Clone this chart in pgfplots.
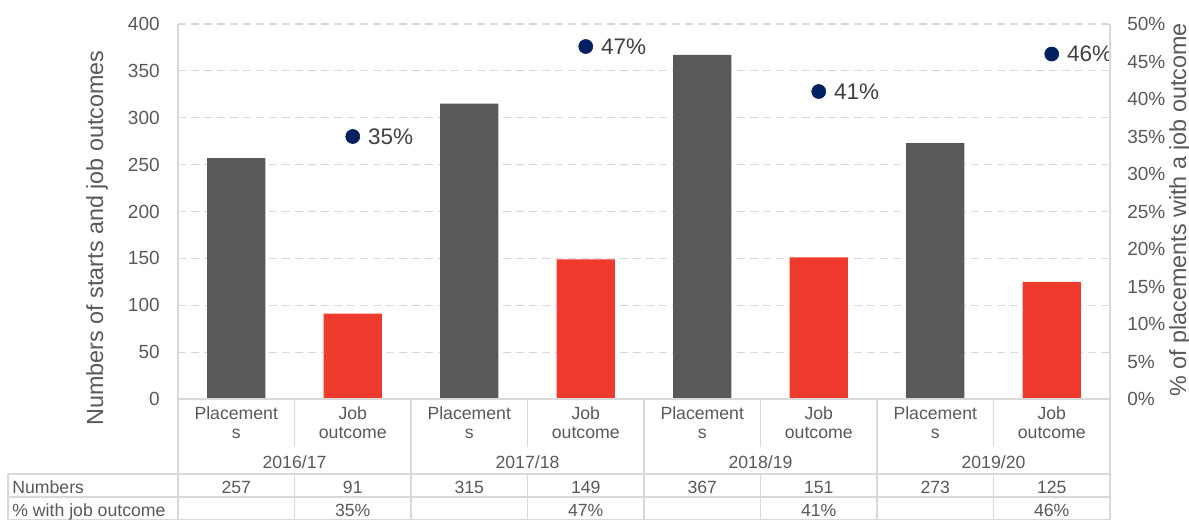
\documentclass[border=0pt]{standalone}
\usepackage{pgfplots}
\pgfplotsset{compat=1.18}
\usepackage{fontspec}
\setmainfont{Liberation Sans}
\definecolor{txt}{HTML}{595959}
\definecolor{txtd}{HTML}{404040}
\definecolor{bargray}{HTML}{595959}
\definecolor{barred}{HTML}{EE3B2D}
\definecolor{navy}{HTML}{002060}
\definecolor{gridc}{HTML}{D9D9D9}
\newcommand\tickfont{\fontsize{11.4}{13}\selectfont}
\newcommand\tabfont{\fontsize{10.6}{11.4}\selectfont}
\newcommand\labfont{\fontsize{13.5}{15}\selectfont}
\newcommand\titfont{\fontsize{14}{16}\selectfont}
\begin{document}
\begin{tikzpicture}[x=0.6pt,y=-0.6pt]
\path[use as bounding box] (0,0) rectangle (1189,520);
\begin{axis}[
  at={(106.8pt,-239.4pt)}, anchor=south west, scale only axis,
  width=559.2pt, height=225pt,
  xmin=-0.5, xmax=7.5, ymin=0, ymax=400,
  ytick={0,50,...,400}, xtick=\empty,
  /pgf/number format/assume math mode=true,
  ymajorgrids, grid style={gridc, dash pattern=on 4.8pt off 3pt, line width=0.7pt},
  axis line style={draw=none},
  major tick length=0pt,
  yticklabel style={font=\tickfont, color=txt, anchor=east, inner sep=0pt, xshift=-10.8pt},
  ybar, bar width=0.5,
  clip=false,
]
\addplot[ybar, bar shift=0pt, fill=bargray, draw=none] coordinates {(0,257) (2,315) (4,367) (6,273)};
\addplot[ybar, bar shift=0pt, fill=barred, draw=none] coordinates {(1,91) (3,149) (5,151) (7,125)};
\end{axis}
\begin{axis}[
  at={(106.8pt,-239.4pt)}, anchor=south west, scale only axis,
  width=559.2pt, height=225pt,
  xmin=-0.5, xmax=7.5, ymin=0, ymax=0.5,
  ytick={0,0.05,...,0.51}, xtick=\empty,
  yticklabels={0\%,5\%,10\%,15\%,20\%,25\%,30\%,35\%,40\%,45\%,50\%},
  yticklabel pos=right,
  axis line style={draw=none},
  major tick length=0pt,
  yticklabel style={font=\tickfont, color=txt, anchor=west, inner sep=0pt, xshift=10.2pt},
  clip=false,
]
\addplot[only marks, mark=*, mark size=4.2pt, color=navy,
  nodes near coords, point meta=explicit symbolic,
  nodes near coords style={anchor=west, inner sep=0pt, xshift=9pt, font=\labfont, color=txtd}]
  coordinates {(1,0.35)[35\%] (3,0.47)[47\%] (5,0.41)[41\%] (7,0.46)[46\%]};
\end{axis}
% axis frame lines
\draw[gridc, line width=0.9pt] (178,24) -- (178,399) -- (1110,399) -- (1110,24);
% table lines
\begin{scope}[gridc, line width=0.9pt]
\foreach \x in {178,411,644,877,1110} \draw (\x,399) -- (\x,520);
\foreach \x in {294.5,527.5,760.5,993.5} {\draw (\x,399) -- (\x,447); \draw (\x,474) -- (\x,520);}
\draw (8,474) -- (8,520);
\draw (8,474) -- (1110,474);
\draw (8,497) -- (1110,497);
\draw (8,519.3) -- (1110,519.3);
\end{scope}
% category labels
\begin{scope}[font=\tabfont, text=txt]
\foreach \x in {236.25,469.25,702.25,935.25} {
  \node[anchor=base] at (\x,419) {Placement};
  \node[anchor=base] at (\x,438.5) {s};
}
\foreach \x in {352.75,585.75,818.75,1051.75} {
  \node[anchor=base] at (\x,419) {Job};
  \node[anchor=base] at (\x,438.5) {outcome};
}
\node[anchor=base] at (294.5,468) {2016/17};
\node[anchor=base] at (527.5,468) {2017/18};
\node[anchor=base] at (760.5,468) {2018/19};
\node[anchor=base] at (993.5,468) {2019/20};
\node[anchor=base west, inner sep=0pt] at (12,493) {Numbers};
\node[anchor=base west, inner sep=0pt] at (12,516.5) {\% with job outcome};
\foreach \x/\v in {236.25/257,352.75/91,469.25/315,585.75/149,702.25/367,818.75/151,935.25/273,1051.75/125}
  \node[anchor=base] at (\x,493) {\v};
\foreach \x/\v in {352.75/35\%,585.75/47\%,818.75/41\%,1051.75/46\%}
  \node[anchor=base] at (\x,516.5) {\v};
\end{scope}
% axis titles
\node[rotate=90, anchor=base, font=\titfont, text=txt, inner sep=0pt] at (103,238) {Numbers of starts and job outcomes};
\node[rotate=90, anchor=base, font=\titfont, text=txt, inner sep=0pt] at (1186,210) {\% of placements with a job outcome};
\end{tikzpicture}
\end{document}
